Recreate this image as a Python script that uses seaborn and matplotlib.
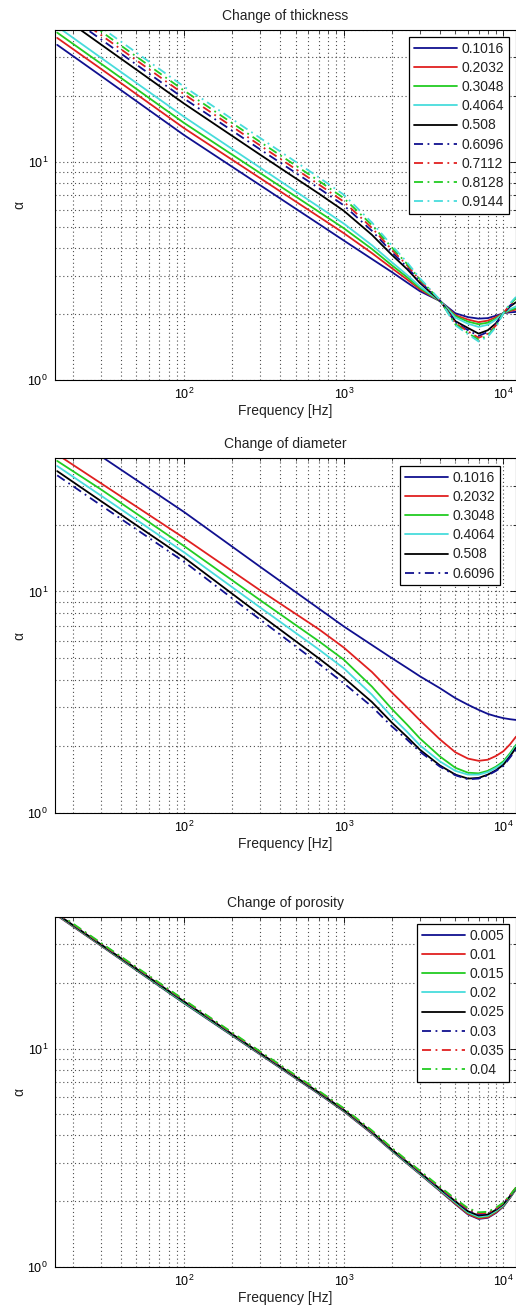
import matplotlib
matplotlib.use("Agg")
import matplotlib.pyplot as plt
import seaborn as sns
from matplotlib.ticker import LogLocator, NullFormatter

# ---------------- data ----------------
FREQ = [16, 30, 100, 300, 700, 1000, 1500, 2000, 2500, 3000, 4000, 5000,
        6000, 7000, 8000, 9000, 10000, 11000, 12000]

# Change of thickness
thick_labels = ["0.1016", "0.2032", "0.3048", "0.4064", "0.508", "0.6096", "0.7112", "0.8128", "0.9144"]
thick_01016 = [34.2, 24.7, 13.2, 7.78, 5.17, 4.35, 3.58, 3.12, 2.79, 2.55, 2.30, 2.02, 1.94, 1.91, 1.92, 1.97, 2.02, 2.04, 2.05]
thick_02032 = [36.8, 26.6, 14.2, 8.38, 5.58, 4.70, 3.81, 3.25, 2.88, 2.60, 2.30, 1.98, 1.89, 1.84, 1.87, 1.94, 2.02, 2.07, 2.10]
thick_03048 = [38.9, 28.1, 15.0, 8.84, 5.88, 4.95, 3.98, 3.35, 2.95, 2.64, 2.30, 1.96, 1.85, 1.80, 1.83, 1.91, 2.02, 2.09, 2.13]
thick_04064 = [41.5, 29.9, 16.0, 9.36, 6.19, 5.20, 4.14, 3.46, 3.02, 2.68, 2.31, 1.93, 1.81, 1.75, 1.79, 1.89, 2.02, 2.11, 2.17]
thick_0508 = [47.7, 34.4, 18.4, 10.73, 7.12, 5.95, 4.62, 3.74, 3.21, 2.78, 2.31, 1.86, 1.73, 1.63, 1.69, 1.82, 2.02, 2.17, 2.27]
thick_06096 = [50.3, 36.3, 19.4, 11.35, 7.54, 6.30, 4.82, 3.85, 3.28, 2.82, 2.31, 1.84, 1.69, 1.59, 1.66, 1.80, 2.02, 2.19, 2.31]
thick_07112 = [52.7, 38.0, 20.3, 11.83, 7.84, 6.55, 4.97, 3.95, 3.34, 2.86, 2.32, 1.82, 1.67, 1.56, 1.63, 1.78, 2.02, 2.21, 2.34]
thick_08128 = [54.7, 39.5, 21.1, 12.28, 8.14, 6.80, 5.12, 4.04, 3.39, 2.89, 2.32, 1.80, 1.64, 1.53, 1.60, 1.77, 2.02, 2.22, 2.37]
thick_09144 = [57.1, 41.2, 22.0, 12.80, 8.45, 7.05, 5.26, 4.13, 3.45, 2.92, 2.33, 1.78, 1.62, 1.50, 1.58, 1.75, 2.02, 2.24, 2.40]

# Change of diameter
diam_labels = ["0.1016", "0.2032", "0.3048", "0.4064", "0.508", "0.6096"]
diam_01016 = [55.8, 40.8, 22.8, 12.9, 8.35, 6.95, 5.73, 5.00, 4.51, 4.14, 3.66, 3.30, 3.08, 2.92, 2.80, 2.73, 2.68, 2.65, 2.63]
diam_02032 = [41.5, 30.8, 17.4, 10.1, 6.74, 5.58, 4.33, 3.50, 2.99, 2.62, 2.15, 1.88, 1.76, 1.72, 1.74, 1.81, 1.90, 2.04, 2.21]
diam_03048 = [38.8, 28.9, 16.0, 9.12, 5.95, 4.92, 3.72, 2.95, 2.50, 2.17, 1.80, 1.60, 1.52, 1.51, 1.55, 1.62, 1.71, 1.86, 2.03]
diam_04064 = [36.8, 27.1, 15.0, 8.45, 5.46, 4.50, 3.42, 2.72, 2.32, 2.02, 1.71, 1.55, 1.49, 1.49, 1.53, 1.60, 1.68, 1.83, 2.00]
diam_0508 = [34.9, 25.6, 14.2, 7.83, 4.98, 4.08, 3.17, 2.56, 2.20, 1.93, 1.64, 1.49, 1.43, 1.44, 1.49, 1.56, 1.65, 1.80, 1.97]
diam_06096 = [33.4, 24.5, 13.6, 7.45, 4.71, 3.85, 3.02, 2.46, 2.14, 1.89, 1.62, 1.48, 1.42, 1.43, 1.48, 1.55, 1.63, 1.78, 1.93]

# Change of porosity
poro_labels = ["0.005", "0.01", "0.015", "0.02", "0.025", "0.03", "0.035", "0.04"]
poro_0005 = [40.6, 29.6, 16.1, 9.38, 6.19, 5.16, 4.08, 3.40, 2.97, 2.66, 2.23, 1.94, 1.74, 1.66, 1.68, 1.77, 1.89, 2.07, 2.27]
poro_0010 = [40.7, 29.7, 16.2, 9.42, 6.22, 5.18, 4.10, 3.41, 2.98, 2.67, 2.24, 1.95, 1.75, 1.67, 1.69, 1.78, 1.90, 2.08, 2.28]
poro_0015 = [40.9, 29.8, 16.2, 9.45, 6.24, 5.20, 4.12, 3.42, 2.99, 2.68, 2.25, 1.97, 1.77, 1.69, 1.71, 1.80, 1.91, 2.09, 2.28]
poro_0020 = [41.0, 29.9, 16.3, 9.48, 6.26, 5.22, 4.13, 3.43, 3.00, 2.69, 2.26, 1.98, 1.78, 1.70, 1.72, 1.81, 1.92, 2.10, 2.29]
poro_0025 = [41.2, 30.0, 16.4, 9.52, 6.28, 5.24, 4.15, 3.45, 3.02, 2.71, 2.28, 2.00, 1.80, 1.72, 1.74, 1.83, 1.94, 2.11, 2.30]
poro_0030 = [41.4, 30.2, 16.5, 9.57, 6.32, 5.27, 4.17, 3.47, 3.03, 2.72, 2.29, 2.01, 1.82, 1.74, 1.76, 1.84, 1.95, 2.12, 2.30]
poro_0035 = [41.6, 30.3, 16.6, 9.62, 6.35, 5.30, 4.19, 3.49, 3.05, 2.74, 2.31, 2.03, 1.84, 1.76, 1.77, 1.85, 1.96, 2.13, 2.31]
poro_0040 = [41.8, 30.5, 16.7, 9.68, 6.39, 5.33, 4.22, 3.51, 3.07, 2.76, 2.33, 2.05, 1.86, 1.78, 1.79, 1.87, 1.97, 2.13, 2.31]

panel_titles = ["Change of thickness", "Change of diameter", "Change of porosity"]

# ---------------- style ----------------
sns.set_theme(style="white")
plt.rcParams["font.family"] = ["Liberation Sans", "DejaVu Sans"]
plt.rcParams["mathtext.fontset"] = "custom"
plt.rcParams["mathtext.rm"] = "Liberation Sans"
plt.rcParams["mathtext.it"] = "Liberation Sans:italic"
plt.rcParams["mathtext.bf"] = "Liberation Sans:bold"

COLORS = ["#10108f", "#e02020", "#22cc22", "#48dcdc", "#000000",
          "#10108f", "#e02020", "#22cc22", "#48dcdc"]
DASHDOT = (0, (5, 2.5, 1, 2.5))
STYLES = ["-"] * 5 + [DASHDOT] * 4

panels = [
    (thick_labels, [thick_01016, thick_02032, thick_03048, thick_04064, thick_0508,
                    thick_06096, thick_07112, thick_08128, thick_09144]),
    (diam_labels, [diam_01016, diam_02032, diam_03048, diam_04064, diam_0508, diam_06096]),
    (poro_labels, [poro_0005, poro_0010, poro_0015, poro_0020, poro_0025,
                   poro_0030, poro_0035, poro_0040]),
]

W, H = 516, 1310
fig = plt.figure(figsize=(W / 100, H / 100), dpi=100)
fig.patch.set_facecolor("white")

# (top px, bottom px) of each axes
boxes = [(30, 380), (458, 813), (917, 1267)]
legend_anchor = [(509, 37), (500, 466), (509, 924)]
left_px, right_px = 55, 516

for i, ((labels, series), (top, bot)) in enumerate(zip(panels, boxes)):
    ax = fig.add_axes([left_px / W, 1 - bot / H, (right_px - left_px) / W, (bot - top) / H])
    for j, (lab, vals) in enumerate(zip(labels, series)):
        sns.lineplot(x=FREQ, y=vals, ax=ax, color=COLORS[j], linestyle=STYLES[j],
                     linewidth=1.3, label=lab, estimator=None, sort=False)
    ax.set_xscale("log")
    ax.set_yscale("log")
    ax.set_xlim(15.5, 12000)
    ax.set_ylim(1, 40)
    ax.xaxis.set_major_locator(LogLocator(base=10))
    ax.xaxis.set_minor_locator(LogLocator(base=10, subs=range(2, 10)))
    ax.yaxis.set_major_locator(LogLocator(base=10))
    ax.yaxis.set_minor_locator(LogLocator(base=10, subs=range(2, 10)))
    ax.xaxis.set_minor_formatter(NullFormatter())
    ax.yaxis.set_minor_formatter(NullFormatter())
    ax.grid(True, which="both", linestyle=(0, (1, 2.5)), color="0.3", linewidth=0.8)
    ax.tick_params(which="both", direction="in", top=True, right=True,
                   labelsize=9, colors="black", pad=5)
    ax.tick_params(which="major", length=4, width=0.6)
    ax.tick_params(which="minor", length=2, width=0.5)
    for s in ax.spines.values():
        s.set_color("black")
        s.set_linewidth(0.8)
    ax.set_title(panel_titles[i], fontsize=10, pad=7, color="#222222")
    ax.set_xlabel("Frequency [Hz]", fontsize=10, labelpad=1, color="#222222")
    ax.set_ylabel("α", fontsize=10, labelpad=1, color="#222222")

    lx, ly = legend_anchor[i]
    ax_w = right_px - left_px
    ax_h = bot - top
    leg = ax.legend(loc="upper right",
                    bbox_to_anchor=((lx - left_px) / ax_w, 1 - (ly - top) / ax_h),
                    borderaxespad=0, fontsize=10, frameon=True, fancybox=False,
                    framealpha=1, edgecolor="black", handlelength=3.1,
                    handletextpad=0.3, labelspacing=0.37, borderpad=0.35)
    leg.get_frame().set_linewidth(0.9)
    for t in leg.get_texts():
        t.set_color("#222222")

fig.savefig("out.png", dpi=100, facecolor="white")
